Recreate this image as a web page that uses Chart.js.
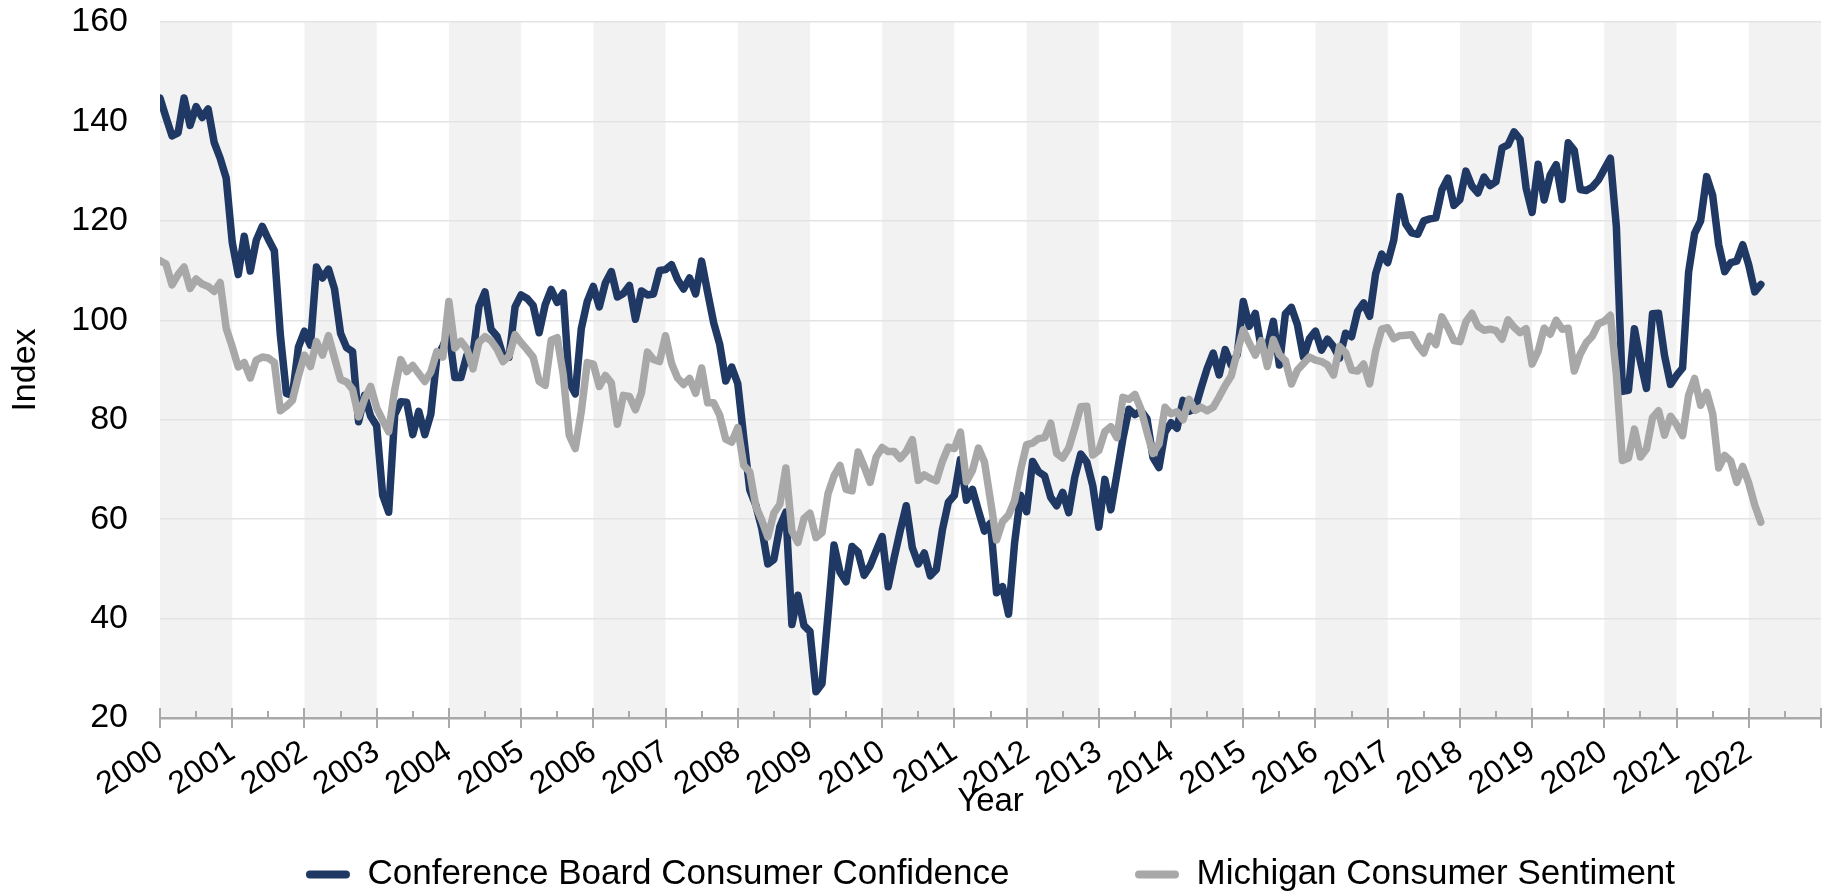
<!DOCTYPE html>
<html>
<head>
<meta charset="utf-8">
<script src="https://cdn.jsdelivr.net/npm/chart.js@4.4.1/dist/chart.umd.min.js"></script>
<style>
  html, body { margin: 0; padding: 0; background: #ffffff; }
  #wrap { width: 1832px; height: 895px; }
  canvas { display: block; }
</style>
</head>
<body>
<div id="wrap"><canvas id="chart" width="1832" height="895" style="width:1832px;height:895px"></canvas></div>
<script>
// ---------------- data ----------------
const startYear = 2000;              // first month = January 2000, monthly observations
const axisEndYear = 2023;
const yearLabels = ['2000','2001','2002','2003','2004','2005','2006','2007','2008','2009','2010',
  '2011','2012','2013','2014','2015','2016','2017','2018','2019','2020','2021','2022'];
const seriesNames = ['Conference Board Consumer Confidence', 'Michigan Consumer Sentiment'];
const xAxisTitle = 'Year';
const yAxisTitle = 'Index';
const yTickValues = [20, 40, 60, 80, 100, 120, 140, 160];

const conferenceBoard = [
  144.7, 140.8, 137.1, 137.7, 144.7, 139.2, 143.0, 140.8, 142.5, 135.8, 132.6, 128.6, // 2000
  115.7, 109.2, 116.9, 109.9, 116.1, 118.9, 116.3, 114.0, 97.0, 85.3, 84.9, 94.6,     // 2001
  97.8, 95.0, 110.7, 108.5, 110.3, 106.3, 97.4, 94.5, 93.7, 79.6, 84.9, 80.7,         // 2002
  78.8, 64.8, 61.4, 81.0, 83.6, 83.5, 77.0, 81.7, 77.0, 81.1, 92.5, 94.8,             // 2003
  97.7, 88.5, 88.5, 93.0, 93.1, 102.8, 105.7, 98.2, 96.8, 92.9, 92.6, 102.7,          // 2004
  105.1, 104.4, 103.0, 97.5, 103.1, 106.2, 103.6, 105.5, 87.5, 85.2, 98.3, 103.8,     // 2005
  106.8, 102.7, 107.5, 109.8, 104.7, 105.4, 107.0, 100.2, 105.9, 105.1, 105.3, 110.0, // 2006
  110.2, 111.2, 108.2, 106.3, 108.5, 105.3, 111.9, 105.6, 99.5, 95.2, 87.8, 90.6,     // 2007
  87.3, 76.4, 65.9, 62.8, 58.1, 51.0, 51.9, 58.5, 61.4, 38.8, 44.7, 38.6,             // 2008
  37.4, 25.3, 26.9, 40.8, 54.8, 49.3, 47.4, 54.5, 53.4, 48.7, 50.6, 53.6,             // 2009
  56.5, 46.4, 52.3, 57.7, 62.7, 54.3, 51.0, 53.2, 48.6, 49.9, 57.8, 63.4,             // 2010
  64.8, 72.0, 63.8, 66.0, 61.7, 57.6, 59.2, 45.2, 46.4, 40.9, 55.2, 64.8,             // 2011
  61.5, 71.6, 69.5, 68.7, 64.4, 62.7, 65.4, 61.3, 68.4, 73.1, 71.5, 66.7,             // 2012
  58.4, 68.0, 61.9, 69.0, 76.2, 82.1, 81.0, 81.8, 80.2, 72.4, 70.4, 77.5,             // 2013
  79.4, 78.3, 83.9, 81.7, 82.2, 86.4, 90.3, 93.4, 89.0, 94.1, 91.0, 93.1,             // 2014
  103.8, 98.8, 101.4, 94.3, 94.6, 99.8, 91.0, 101.3, 102.6, 99.1, 92.6, 96.3,         // 2015
  97.8, 94.0, 96.2, 94.7, 92.4, 97.4, 96.7, 101.8, 103.5, 100.8, 109.4, 113.3,        // 2016
  111.6, 116.1, 124.9, 119.4, 117.6, 117.3, 120.0, 120.4, 120.6, 126.2, 128.6, 123.1, // 2017
  124.3, 130.0, 127.0, 125.6, 128.8, 127.1, 127.9, 134.7, 135.3, 137.9, 136.4, 126.6, // 2018
  121.7, 131.4, 124.2, 129.2, 131.3, 124.3, 135.7, 134.2, 126.3, 126.1, 126.8, 128.2, // 2019
  130.4, 132.6, 118.8, 85.7, 85.9, 98.3, 91.7, 86.3, 101.3, 101.4, 92.9, 87.1,        // 2020
  88.9, 90.4, 109.7, 117.5, 120.0, 128.9, 125.1, 115.2, 109.8, 111.6, 111.9, 115.2,   // 2021
  111.1, 105.7, 107.2                                                                 // 2022
];

const michiganSentiment = [
  112.0, 111.3, 107.1, 109.2, 110.7, 106.4, 108.3, 107.3, 106.8, 105.8, 107.6, 98.4,  // 2000
  94.7, 90.6, 91.5, 88.4, 92.0, 92.6, 92.4, 91.5, 81.8, 82.7, 83.9, 88.8,             // 2001
  93.0, 90.7, 95.7, 93.0, 96.9, 92.4, 88.1, 87.6, 86.1, 80.6, 84.2, 86.7,             // 2002
  82.4, 79.9, 77.6, 86.0, 92.1, 89.7, 90.9, 89.3, 87.7, 89.6, 93.7, 92.6,             // 2003
  103.8, 94.4, 95.8, 94.2, 90.2, 95.6, 96.7, 95.9, 94.2, 91.7, 92.8, 97.1,            // 2004
  95.5, 94.1, 92.6, 87.7, 86.9, 96.0, 96.5, 89.1, 76.9, 74.2, 81.6, 91.5,             // 2005
  91.2, 86.7, 88.9, 87.4, 79.1, 84.9, 84.7, 82.0, 85.4, 93.6, 92.1, 91.7,             // 2006
  96.9, 91.3, 88.4, 87.1, 88.3, 85.3, 90.4, 83.4, 83.4, 80.9, 76.1, 75.5,             // 2007
  78.4, 70.8, 69.5, 62.6, 59.8, 56.4, 61.2, 63.0, 70.3, 57.6, 55.3, 60.1,             // 2008
  61.2, 56.3, 57.3, 65.1, 68.7, 70.8, 66.0, 65.7, 73.5, 70.6, 67.4, 72.5,             // 2009
  74.4, 73.6, 73.6, 72.2, 73.6, 76.0, 67.8, 68.9, 68.2, 67.7, 71.6, 74.5,             // 2010
  74.2, 77.5, 67.5, 69.8, 74.3, 71.5, 63.7, 55.8, 59.5, 60.8, 63.7, 69.9,             // 2011
  75.0, 75.3, 76.2, 76.4, 79.3, 73.2, 72.3, 74.3, 78.3, 82.6, 82.7, 72.9,             // 2012
  73.8, 77.6, 78.6, 76.4, 84.5, 84.1, 85.1, 82.1, 77.5, 73.2, 75.1, 82.5,             // 2013
  81.2, 81.6, 80.0, 84.1, 81.9, 82.5, 81.8, 82.5, 84.6, 86.9, 88.8, 93.6,             // 2014
  98.1, 95.4, 93.0, 95.9, 90.7, 96.1, 93.1, 91.9, 87.2, 90.0, 91.3, 92.6,             // 2015
  92.0, 91.7, 91.0, 89.0, 94.7, 93.5, 90.0, 89.8, 91.2, 87.2, 93.8, 98.2,             // 2016
  98.5, 96.3, 96.9, 97.0, 97.1, 95.0, 93.4, 96.8, 95.1, 100.7, 98.5, 95.9,            // 2017
  95.7, 99.7, 101.4, 98.8, 98.0, 98.2, 97.9, 96.2, 100.1, 98.6, 97.5, 98.3,           // 2018
  91.2, 93.8, 98.4, 97.2, 100.0, 98.2, 98.4, 89.8, 93.2, 95.5, 96.8, 99.3,            // 2019
  99.8, 101.0, 89.1, 71.8, 72.3, 78.1, 72.5, 74.1, 80.4, 81.8, 76.9, 80.7,            // 2020
  79.0, 76.8, 84.9, 88.3, 82.9, 85.5, 81.2, 70.3, 72.8, 71.7, 67.4, 70.6,             // 2021
  67.2, 62.8, 59.4                                                                    // 2022
];

// ---------------- styling ----------------
const NAVY = '#1f3864';
const GREY = '#a8a8a8';
const BAND = '#f2f2f2';
const AXIS = '#a9a9a9';
const FONT = "'Liberation Sans', Arial, Helvetica, sans-serif";

Chart.defaults.font.family = FONT;
Chart.defaults.color = '#000000';

const toPoints = (arr) => arr.map((v, i) => ({ x: startYear + i / 12, y: v }));

// alternating year bands behind the plot
const yearBands = {
  id: 'yearBands',
  beforeDraw(chart) {
    const { ctx, chartArea: a, scales: { x } } = chart;
    ctx.save();
    ctx.fillStyle = BAND;
    for (let yr = startYear; yr < axisEndYear; yr += 2) {
      const x0 = x.getPixelForValue(yr);
      const x1 = x.getPixelForValue(Math.min(yr + 1, axisEndYear));
      ctx.fillRect(x0, a.top, x1 - x0, a.bottom - a.top);
    }
    ctx.restore();
  }
};

// year (major, crossing) and half-year (minor) tick marks on the x axis
const axisTicks = {
  id: 'axisTicks',
  afterDatasetsDraw(chart) {
    const { ctx, chartArea: a, scales: { x } } = chart;
    const yAxis = a.bottom;
    ctx.save();
    ctx.strokeStyle = AXIS;
    ctx.lineWidth = 2;
    ctx.beginPath();
    for (let yr = startYear; yr <= axisEndYear; yr++) {
      const px = Math.round(x.getPixelForValue(yr));
      ctx.moveTo(px, yAxis - 10);
      ctx.lineTo(px, yAxis + 10);
      if (yr < axisEndYear) {
        const pm = Math.round(x.getPixelForValue(yr + 0.5));
        ctx.moveTo(pm, yAxis - 7);
        ctx.lineTo(pm, yAxis);
      }
    }
    ctx.stroke();
    ctx.restore();
  }
};

const LEGEND_PAD = 32;

const chart = new Chart(document.getElementById('chart'), {
  type: 'line',
  data: {
    datasets: [
      {
        label: seriesNames[0],
        data: toPoints(conferenceBoard),
        borderColor: NAVY,
        backgroundColor: NAVY,
        borderWidth: 7.5,
        pointRadius: 0,
        tension: 0,
        fill: false,
        borderJoinStyle: 'round',
        borderCapStyle: 'round',
        order: 2
      },
      {
        label: seriesNames[1],
        data: toPoints(michiganSentiment),
        borderColor: GREY,
        backgroundColor: GREY,
        borderWidth: 7.5,
        pointRadius: 0,
        tension: 0,
        fill: false,
        borderJoinStyle: 'round',
        borderCapStyle: 'round',
        order: 1
      }
    ]
  },
  options: {
    responsive: false,
    maintainAspectRatio: false,
    devicePixelRatio: 1,
    animation: false,
    events: [],
    layout: { padding: { top: 22, right: 11, left: 0, bottom: 0 } },
    scales: {
      x: {
        type: 'linear',
        min: startYear,
        max: axisEndYear,
        grid: { display: false, drawTicks: false },
        border: { display: true, color: AXIS, width: 2.5 },
        ticks: {
          stepSize: 1,
          autoSkip: false,
          minRotation: 33,
          maxRotation: 33,
          padding: 15,
          font: { size: 32 },
          color: '#000',
          callback: (value) => yearLabels[Math.round(value) - startYear] ?? ''
        },
        title: {
          display: true,
          text: xAxisTitle,
          font: { size: 33, lineHeight: 1 },
          color: '#000',
          padding: { top: 0, bottom: 7 }
        },
        afterFit: (scale) => {
          scale.height = 107;
          scale.paddingLeft = 0;
          scale.paddingRight = 0;
        }
      },
      y: {
        min: yTickValues[0],
        max: yTickValues[yTickValues.length - 1],
        grid: {
          drawTicks: false,
          lineWidth: 1.5,
          color: (ctx) => (ctx.tick && ctx.tick.value === yTickValues[0]) ? 'rgba(0,0,0,0)' : '#e3e3e3'
        },
        border: { display: false },
        ticks: {
          stepSize: 20,
          padding: 32,
          font: { size: 34 },
          color: '#000'
        },
        title: {
          display: true,
          text: yAxisTitle,
          font: { size: 34 },
          color: '#000',
          padding: { top: 5, bottom: 0 }
        },
        afterFit: (scale) => {
          scale.width = 160;
          scale.paddingTop = 0;
          scale.paddingBottom = 0;
        }
      }
    },
    plugins: {
      tooltip: { enabled: false },
      legend: {
        display: true,
        position: 'bottom',
        fullSize: false,
        maxHeight: 70,
        labels: {
          padding: LEGEND_PAD,
          boxWidth: 44,
          boxHeight: 8,
          color: '#000',
          font: { size: 35 },
          generateLabels: (ch) => {
            const ds = ch.data.datasets;
            const item = (i) => ({
              text: ds[i].label,
              fillStyle: ds[i].borderColor,
              strokeStyle: ds[i].borderColor,
              fontColor: '#000',
              lineWidth: 0,
              borderRadius: 4,
              hidden: !ch.isDatasetVisible(i),
              datasetIndex: i
            });
            // transparent spacer keeps the wide gap between the two entries
            const spacer = { text: '', fillStyle: 'rgba(0,0,0,0)', strokeStyle: 'rgba(0,0,0,0)', lineWidth: 0, hidden: false };
            return [item(0), spacer, item(1)];
          }
        }
      }
    }
  },
  plugins: [yearBands, axisTicks]
});
</script>
</body>
</html>
